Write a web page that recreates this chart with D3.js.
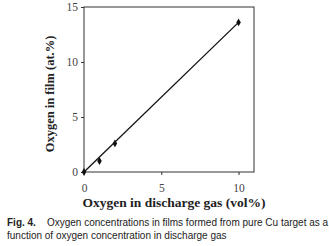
<!DOCTYPE html>
<html>
<head>
<meta charset="utf-8">
<script src="https://cdn.jsdelivr.net/npm/d3@7"></script>
<style>
  body { margin: 0; background: #fff; }
  svg { display: block; }
</style>
</head>
<body>
<svg id="chart" width="329" height="246"></svg>
<script>
// measured points
var gasO2 = [0, 1, 2, 10];
var filmO2 = [0, 1.0, 2.6, 13.6];
// fitted line ends
var fitX = [0, 10];
var fitY = [0, 13.6];
var xTicks = [0, 5, 10];
var yTicks = [0, 5, 10, 15];

var svg = d3.select("#chart");
var plotL = 84, plotR = 254, plotT = 7, plotB = 172;

var x = d3.scaleLinear().domain([0, 11]).range([plotL, plotR]);
var y = d3.scaleLinear().domain([0, 15]).range([plotB, plotT]);

// frame
svg.append("rect")
    .attr("x", plotL).attr("y", plotT)
    .attr("width", plotR - plotL).attr("height", plotB - plotT)
    .style("fill", "none").style("stroke", "#333").style("stroke-width", 1);

// ticks
var xAxis = svg.append("g")
    .attr("transform", "translate(0," + plotB + ")")
    .call(d3.axisBottom(x).tickValues(xTicks).tickSize(3).tickPadding(9));
var yAxis = svg.append("g")
    .attr("transform", "translate(" + plotL + ",0)")
    .call(d3.axisLeft(y).tickValues(yTicks).tickSize(3).tickPadding(3));
[xAxis, yAxis].forEach(function(a) {
    a.select(".domain").remove();
    a.selectAll("line").style("stroke", "#333");
    a.selectAll("text")
        .style("font-family", "'Liberation Serif', 'DejaVu Serif', serif")
        .style("font-size", "11.5px")
        .style("fill", "#444");
});

// fit line
var pts = fitX.map(function(d, i) { return [d, fitY[i]]; });
svg.append("path")
    .attr("d", d3.line().x(function(d) { return x(d[0]); }).y(function(d) { return y(d[1]); })(pts))
    .style("fill", "none").style("stroke", "#111").style("stroke-width", 1.3);

// markers
svg.selectAll(".pt")
    .data(gasO2)
    .enter().append("path")
    .attr("class", "pt")
    .attr("transform", function(d, i) { return "translate(" + x(d) + "," + y(filmO2[i]) + ")"; })
    .attr("d", d3.symbol().type(d3.symbolDiamond).size(18))
    .style("fill", "#111");

// axis titles
svg.append("text")
    .attr("x", 174).attr("y", 207)
    .attr("text-anchor", "middle")
    .style("font-family", "'Liberation Serif', serif")
    .style("font-weight", "bold")
    .style("font-size", "13.5px")
    .style("fill", "#222")
    .text("Oxygen in discharge gas (vol%)");

svg.append("text")
    .attr("transform", "translate(54,94) rotate(-90)")
    .attr("text-anchor", "middle")
    .style("font-family", "'Liberation Serif', serif")
    .style("font-weight", "bold")
    .style("font-size", "12.5px")
    .style("fill", "#222")
    .text("Oxygen in film (at.%)");

// caption
var cap = svg.append("text")
    .attr("x", 7).attr("y", 226)
    .style("font-family", "'Liberation Sans', Arial, sans-serif")
    .style("font-size", "10px")
    .style("fill", "#222");
cap.append("tspan").style("font-weight", "bold").text("Fig. 4.");
cap.append("tspan").attr("dx", 11).text("Oxygen concentrations in films formed from pure Cu target as a");
svg.append("text")
    .attr("x", 7).attr("y", 239)
    .style("font-family", "'Liberation Sans', Arial, sans-serif")
    .style("font-size", "10px")
    .style("fill", "#222")
    .text("function of oxygen concentration in discharge gas");
</script>
</body>
</html>
